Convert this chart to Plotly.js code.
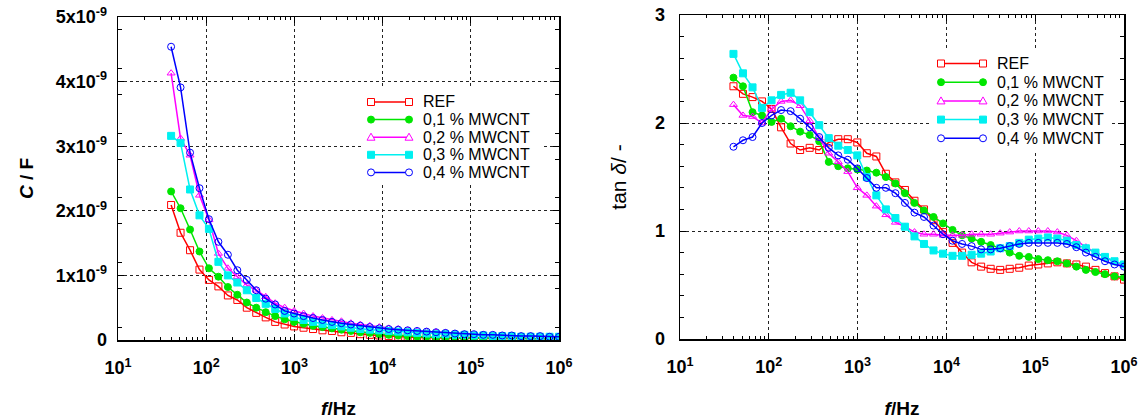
<!DOCTYPE html>
<html>
<head>
<meta charset="utf-8">
<script src="https://cdn.plot.ly/plotly-3.0.1.min.js"></script>
<style>html,body{margin:0;padding:0;background:#fff;}#chart{width:1145px;height:419px;}</style>
</head>
<body>
<div id="chart"></div>
<script>
// ---- data ----
const seriesNames = ['REF', '0,1 % MWCNT', '0,2 % MWCNT', '0,3 % MWCNT', '0,4 % MWCNT'];
const freqHz = [40, 51.2, 65.6, 83.9, 107.4, 137.5, 176.1, 225.4, 288.6, 369.5, 473.1, 605.7, 775.5, 992.2,
  1270, 1626, 2082, 2666, 3412, 4369, 5593, 7161, 9163, 11730, 15020, 19230, 24610, 31510, 40340, 51640,
  66110, 84640, 108400, 138700, 177600, 227300, 291000, 372500, 476900, 610600, 781700, 1000000];

// capacitance in units of 1x10^-9 F
const capREF = [2.09, 1.66, 1.39, 1.09, 0.93, 0.83, 0.69, 0.62, 0.50, 0.42, 0.35, 0.28, 0.24, 0.21, 0.19, 0.17, 0.15, 0.14, 0.12, 0.11,
  0.09, 0.08, 0.07, 0.06, 0.05, 0.05, 0.04, 0.04, 0.03, 0.03, 0.03, 0.03, 0.02, 0.02, 0.02, 0.02, 0.02, 0.02, 0.02, 0.02, 0.02, 0.02];
const cap01 = [2.30, 2.04, 1.71, 1.37, 1.11, 0.98, 0.82, 0.70, 0.58, 0.50, 0.43, 0.37, 0.32, 0.28, 0.25, 0.22, 0.20, 0.18, 0.16, 0.14,
  0.12, 0.11, 0.09, 0.08, 0.07, 0.06, 0.05, 0.05, 0.04, 0.04, 0.04, 0.03, 0.03, 0.03, 0.03, 0.03, 0.03, 0.03, 0.02, 0.02, 0.02, 0.02];
const cap02 = [4.13, 3.12, 2.86, 2.24, 1.86, 1.34, 1.11, 0.98, 0.85, 0.77, 0.67, 0.57, 0.50, 0.45, 0.41, 0.37, 0.34, 0.31, 0.29, 0.26,
  0.24, 0.22, 0.20, 0.18, 0.17, 0.15, 0.14, 0.13, 0.12, 0.11, 0.10, 0.09, 0.08, 0.08, 0.07, 0.07, 0.06, 0.06, 0.06, 0.05, 0.05, 0.05];
const cap03 = [3.16, 3.05, 2.33, 1.93, 1.72, 1.21, 1.00, 0.89, 0.77, 0.65, 0.56, 0.48, 0.41, 0.36, 0.31, 0.28, 0.25, 0.23, 0.21, 0.19,
  0.17, 0.16, 0.15, 0.14, 0.13, 0.12, 0.11, 0.10, 0.09, 0.09, 0.08, 0.08, 0.07, 0.07, 0.06, 0.06, 0.06, 0.05, 0.05, 0.05, 0.05, 0.05];
const cap04 = [4.54, 3.91, 2.90, 2.35, 1.87, 1.52, 1.32, 1.08, 0.93, 0.77, 0.64, 0.55, 0.45, 0.41, 0.37, 0.34, 0.31, 0.28, 0.26, 0.24,
  0.22, 0.20, 0.18, 0.17, 0.16, 0.15, 0.14, 0.13, 0.12, 0.11, 0.10, 0.09, 0.09, 0.08, 0.08, 0.07, 0.07, 0.06, 0.06, 0.06, 0.05, 0.05];

// tan delta
const tanREF = [2.34, 2.27, 2.24, 2.20, 2.13, 1.96, 1.81, 1.75, 1.77, 1.75, 1.82, 1.85, 1.85, 1.82, 1.72, 1.69, 1.53, 1.45, 1.38, 1.28,
  1.20, 1.10, 0.99, 0.89, 0.80, 0.71, 0.67, 0.65, 0.64, 0.65, 0.66, 0.68, 0.69, 0.70, 0.71, 0.70, 0.69, 0.67, 0.64, 0.61, 0.58, 0.55];
const tan01 = [2.42, 2.34, 2.10, 2.07, 2.01, 2.04, 1.97, 1.92, 1.89, 1.83, 1.64, 1.60, 1.58, 1.57, 1.56, 1.54, 1.50, 1.44, 1.35, 1.26,
  1.19, 1.13, 1.07, 1.01, 0.96, 0.93, 0.90, 0.87, 0.84, 0.80, 0.77, 0.76, 0.74, 0.73, 0.72, 0.70, 0.67, 0.64, 0.62, 0.60, 0.58, 0.57];
const tan02 = [2.17, 2.07, 2.06, 2.00, 2.13, 2.20, 2.21, 2.16, 2.02, 1.86, 1.72, 1.64, 1.55, 1.40, 1.33, 1.23, 1.15, 1.08, 1.04, 0.99,
  0.97, 0.97, 0.96, 0.96, 0.96, 0.97, 0.97, 0.97, 0.98, 0.99, 1.00, 1.00, 1.00, 1.00, 0.99, 0.96, 0.91, 0.85, 0.80, 0.76, 0.71, 0.68];
const tan03 = [2.64, 2.46, 2.33, 2.14, 2.21, 2.26, 2.28, 2.21, 2.10, 1.98, 1.86, 1.79, 1.75, 1.70, 1.50, 1.33, 1.20, 1.12, 1.04, 0.95,
  0.88, 0.82, 0.79, 0.77, 0.77, 0.78, 0.79, 0.81, 0.84, 0.86, 0.89, 0.92, 0.93, 0.94, 0.93, 0.91, 0.87, 0.84, 0.80, 0.76, 0.72, 0.69];
const tan04 = [1.78, 1.84, 1.87, 2.00, 2.07, 2.12, 2.11, 2.04, 1.96, 1.87, 1.77, 1.70, 1.66, 1.58, 1.49, 1.40, 1.40, 1.35, 1.26, 1.17,
  1.13, 1.05, 0.97, 0.91, 0.88, 0.86, 0.83, 0.83, 0.84, 0.86, 0.88, 0.89, 0.89, 0.89, 0.89, 0.88, 0.85, 0.80, 0.76, 0.72, 0.69, 0.67];

const xTickVals = [10, 100, 1000, 10000, 100000, 1000000];
const xTickText = ['10<sup>1</sup>', '10<sup>2</sup>', '10<sup>3</sup>', '10<sup>4</sup>', '10<sup>5</sup>', '10<sup>6</sup>'];
const capTickVals = [0, 1, 2, 3, 4, 5];
const capTickText = ['0', '1x10<sup>-9</sup>', '2x10<sup>-9</sup>', '3x10<sup>-9</sup>', '4x10<sup>-9</sup>', '5x10<sup>-9</sup>'];
const tanTickVals = [0, 1, 2, 3];
const tanTickText = ['0', '1', '2', '3'];

// ---- styling ----
const W = 1145, H = 419;
const px = x => x / W;
const py = y => 1 - y / H;
const FONT = 'Liberation Sans, Arial, Helvetica, sans-serif';
const colors = ['#ff0000', '#00e600', '#ff00ff', '#00f0f0', '#0000ff'];
const symbols = ['square-open', 'circle', 'triangle-up-open', 'square', 'circle-open'];
const capSeries = [capREF, cap01, cap02, cap03, cap04];
const tanSeries = [tanREF, tan01, tan02, tan03, tan04];

const traces = [];
capSeries.forEach((ys, k) => traces.push({
  type: 'scatter', mode: 'lines+markers', x: freqHz, y: ys, name: seriesNames[k],
  xaxis: 'x', yaxis: 'y', showlegend: false,
  line: {color: colors[k], width: 1.5},
  marker: {symbol: symbols[k], size: 7, color: colors[k], line: {color: colors[k], width: 1}}
}));
tanSeries.forEach((ys, k) => traces.push({
  type: 'scatter', mode: 'lines+markers', x: freqHz, y: ys, name: seriesNames[k],
  xaxis: 'x2', yaxis: 'y2', showlegend: false,
  line: {color: colors[k], width: 1.5},
  marker: {symbol: symbols[k], size: 7, color: colors[k], line: {color: colors[k], width: 1}}
}));

// minor tick positions
const minorX = [];
for (let e = 1; e < 6; e++) for (let d = 2; d <= 9; d++) minorX.push(d * Math.pow(10, e));
const minorCap = [];
for (let k = 0; k < 5; k++) { minorCap.push(k + 0.2, k + 0.8); }
const minorTan = [];
for (let k = 0; k < 3; k++) for (let j = 1; j <= 4; j++) minorTan.push(k + j * 0.2);

const tickFont = {family: FONT, size: 18, color: '#000', weight: 'bold'};
const baseAxis = {
  showline: true, linecolor: '#000', linewidth: 1.5, mirror: 'allticks',
  ticks: 'inside', ticklen: 6, tickwidth: 1, tickcolor: '#000',
  showgrid: true, gridcolor: '#222', gridwidth: 1, griddash: 'dot',
  zeroline: false, tickfont: tickFont, fixedrange: true
};
function xAxis(domain, anchor) {
  return Object.assign({}, baseAxis, {
    type: 'log', range: [1, 6], domain: domain, anchor: anchor,
    tickmode: 'array', tickvals: xTickVals, ticktext: xTickText, ticklabelstandoff: 11,
    minor: {tickmode: 'array', tickvals: minorX, ticks: 'inside', ticklen: 3, tickcolor: '#000', showgrid: false},
    title: {text: '<b><i>f</i>/Hz</b>', font: {family: FONT, size: 19, color: '#000'}, standoff: 25}
  });
}
const layout = {
  width: W, height: H, margin: {l: 0, r: 0, t: 0, b: 0},
  paper_bgcolor: '#fff', plot_bgcolor: '#fff', showlegend: false,
  font: {family: FONT, color: '#000', size: 16},
  xaxis: xAxis([px(118), px(559)], 'y'),
  xaxis2: xAxis([px(680), px(1124)], 'y2'),
  yaxis: Object.assign({}, baseAxis, {
    range: [0, 5], domain: [py(340), py(17)], anchor: 'x',
    tickmode: 'array', tickvals: capTickVals, ticktext: capTickText, ticklabelstandoff: 6,
    minor: {tickmode: 'array', tickvals: minorCap, ticks: 'inside', ticklen: 4, tickcolor: '#000', showgrid: false},
    title: {text: '<b><i>C</i> / F</b>', font: {family: FONT, size: 19, color: '#000'}, standoff: 17}
  }),
  yaxis2: Object.assign({}, baseAxis, {
    range: [0, 3], domain: [py(339), py(15)], anchor: 'x2',
    tickmode: 'array', tickvals: tanTickVals, ticktext: tanTickText, ticklabelstandoff: 10,
    minor: {tickmode: 'array', tickvals: minorTan, ticks: 'inside', ticklen: 4, tickcolor: '#000', showgrid: false},
    title: {text: 'tan <i>δ</i>/ -', font: {family: FONT, size: 21, color: '#000'}, standoff: 22}
  }),
  shapes: [], annotations: []
};

// ---- custom legends (line sample with a marker at each end) ----
function markerShape(sym, cx, cy, color) {
  const r = 3.5;
  const x0 = px(cx - r), x1 = px(cx + r), y0 = py(cy + r), y1 = py(cy - r);
  const filled = sym.indexOf('open') < 0;
  const fill = filled ? color : '#fff';
  if (sym.startsWith('square')) return {type: 'rect', xref: 'paper', yref: 'paper', x0, x1, y0, y1, fillcolor: fill, line: {color, width: 1}, layer: 'above'};
  if (sym.startsWith('circle')) return {type: 'circle', xref: 'paper', yref: 'paper', x0, x1, y0, y1, fillcolor: fill, line: {color, width: 1}, layer: 'above'};
  const p = `M${px(cx)},${py(cy - 4)} L${px(cx + 4)},${py(cy + 3)} L${px(cx - 4)},${py(cy + 3)} Z`;
  return {type: 'path', xref: 'paper', yref: 'paper', path: p, fillcolor: fill, line: {color, width: 1}, layer: 'above'};
}
function addLegend(box, lineX0, lineX1, textX, rowY0, rowDy) {
  layout.shapes.push({type: 'rect', xref: 'paper', yref: 'paper', x0: px(box[0]), x1: px(box[1]), y0: py(box[3]), y1: py(box[2]),
    fillcolor: '#fff', line: {width: 0}, layer: 'above'});
  seriesNames.forEach((nm, k) => {
    const yy = rowY0 + k * rowDy;
    layout.shapes.push({type: 'line', xref: 'paper', yref: 'paper', x0: px(lineX0), x1: px(lineX1), y0: py(yy), y1: py(yy),
      line: {color: colors[k], width: 1.5}, layer: 'above'});
    layout.shapes.push(markerShape(symbols[k], lineX0, yy, colors[k]));
    layout.shapes.push(markerShape(symbols[k], lineX1, yy, colors[k]));
    layout.annotations.push({xref: 'paper', yref: 'paper', x: px(textX), y: py(yy), xanchor: 'left', yanchor: 'middle',
      text: nm, showarrow: false, font: {family: FONT, size: 16, color: '#000'}});
  });
}
addLegend([362, 542, 88, 182], 371, 409, 421, 102, 17.6);
addLegend([932, 1112, 50, 150], 941, 983, 995, 63.5, 18.7);

Plotly.newPlot('chart', traces, layout, {displayModeBar: false, staticPlot: true});
</script>
</body>
</html>
